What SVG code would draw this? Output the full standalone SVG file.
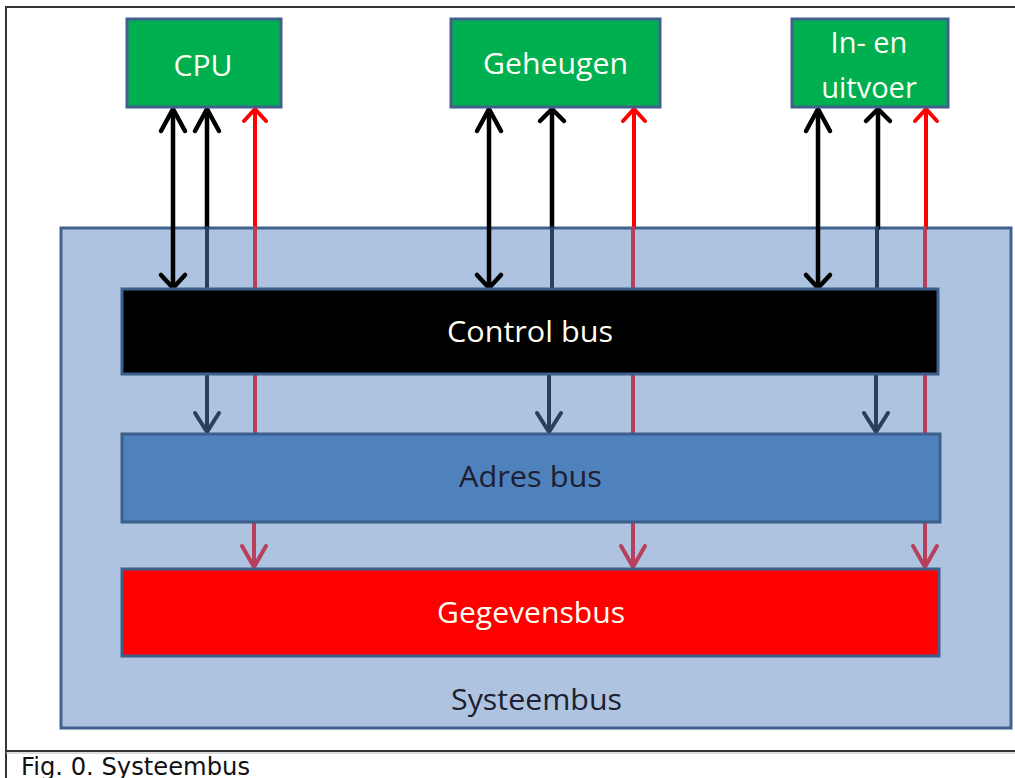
<svg xmlns="http://www.w3.org/2000/svg" width="1015" height="778" viewBox="0 0 1015 778">
<style>
.frame{stroke:#333;stroke-width:2;fill:none}
.unit{fill:#00b050;stroke:#41618c;stroke-width:3}
.bus{stroke:#3d5f8b;stroke-width:3}
.lbl{font-family:"Open Sans","Liberation Sans",sans-serif;font-size:29px;text-anchor:middle}
.w{fill:#fffff4}
.d{fill:#1c2030}
.ln{fill:none;stroke-linecap:round;stroke-linejoin:round}
.blk{stroke:#000;stroke-width:4.5}
.nav{stroke:#2b3e5c;stroke-width:4}
.red{stroke:#ff0000;stroke-width:4}
.dred{stroke:#b8405c;stroke-width:4}
</style>
<rect width="1015" height="778" fill="#fff"/>
<g id="frame">
<line class="frame" x1="6" y1="7" x2="1015" y2="7"/>
<line class="frame" x1="6" y1="6" x2="6" y2="778"/>
<line class="frame" x1="6" y1="751" x2="1015" y2="751"/>
<line x1="6" y1="753" x2="1015" y2="753" stroke="#bbb" stroke-width="1"/>
<text x="21" y="775" font-family="DejaVu Sans,Verdana,sans-serif" font-size="24.5" fill="#111" textLength="229" lengthAdjust="spacingAndGlyphs">Fig. 0. Systeembus</text>
</g>
<g id="systeembus">
<rect x="61" y="228" width="950" height="500" fill="#adc3df" stroke="#41628e" stroke-width="3"/>
<text class="lbl d" x="536.5" y="710" textLength="171" lengthAdjust="spacingAndGlyphs">Systeembus</text>
</g>
<g id="connectors">
<!-- CPU -->
<line class="ln blk" x1="173" y1="110" x2="173" y2="286"/>
<polyline class="ln blk" points="161,131 173,109 185,131"/>
<polyline class="ln blk" points="161,275 173,288 185,275"/>
<line class="ln blk" x1="207" y1="110" x2="207" y2="228"/>
<line class="ln nav" x1="207" y1="228" x2="207" y2="288"/>
<polyline class="ln blk" points="195,131 207,109 219,131"/>
<line class="ln nav" x1="207" y1="375" x2="207" y2="431"/>
<polyline class="ln nav" points="195,413 207,432 219,413"/>
<line class="ln red" x1="255" y1="110" x2="255" y2="228"/>
<polyline class="ln red" points="244,121 255,109 266,121"/>
<line class="ln dred" x1="255" y1="228" x2="255" y2="434"/>
<line class="ln dred" x1="254" y1="522" x2="254" y2="566"/>
<polyline class="ln dred" points="242,546 254,567 266,546"/>
<!-- Geheugen -->
<line class="ln blk" x1="489" y1="110" x2="489" y2="286"/>
<polyline class="ln blk" points="477,131 489,109 501,131"/>
<polyline class="ln blk" points="477,275 489,288 501,275"/>
<line class="ln blk" x1="552" y1="110" x2="552" y2="228"/>
<line class="ln nav" x1="552" y1="228" x2="552" y2="288"/>
<polyline class="ln blk" points="540,121 552,109 564,121"/>
<line class="ln nav" x1="549" y1="375" x2="549" y2="431"/>
<polyline class="ln nav" points="537,413 549,432 561,413"/>
<line class="ln red" x1="634" y1="110" x2="634" y2="228"/>
<polyline class="ln red" points="623,121 634,109 645,121"/>
<line class="ln dred" x1="633" y1="228" x2="633" y2="434"/>
<line class="ln dred" x1="633" y1="522" x2="633" y2="566"/>
<polyline class="ln dred" points="621,546 633,567 645,546"/>
<!-- In- en uitvoer -->
<line class="ln blk" x1="818" y1="110" x2="818" y2="286"/>
<polyline class="ln blk" points="806,131 818,109 830,131"/>
<polyline class="ln blk" points="806,275 818,288 830,275"/>
<line class="ln blk" x1="878" y1="110" x2="878" y2="228"/>
<line class="ln nav" x1="877" y1="228" x2="877" y2="288"/>
<polyline class="ln blk" points="866,121 878,109 890,121"/>
<line class="ln nav" x1="876" y1="375" x2="876" y2="431"/>
<polyline class="ln nav" points="864,413 876,432 888,413"/>
<line class="ln red" x1="926" y1="110" x2="926" y2="228"/>
<polyline class="ln red" points="915,121 926,109 937,121"/>
<line class="ln dred" x1="925" y1="228" x2="925" y2="434"/>
<line class="ln dred" x1="925" y1="522" x2="925" y2="566"/>
<polyline class="ln dred" points="913,546 925,567 937,546"/>
</g>
<g id="cpu">
<rect class="unit" x="127" y="19" width="154" height="88"/>
<text class="lbl w" x="203" y="76" textLength="59" lengthAdjust="spacingAndGlyphs">CPU</text>
</g>
<g id="geheugen">
<rect class="unit" x="451" y="19" width="209" height="88"/>
<text class="lbl w" x="555.5" y="74" textLength="145" lengthAdjust="spacingAndGlyphs">Geheugen</text>
</g>
<g id="io">
<rect class="unit" x="792" y="19" width="156" height="88"/>
<text class="lbl w" x="869" y="53">In- en</text>
<text class="lbl w" x="869" y="98">uitvoer</text>
</g>
<g id="controlbus">
<rect class="bus" x="122" y="289" width="816" height="85" fill="#000"/>
<text class="lbl w" x="530" y="342" textLength="166" lengthAdjust="spacingAndGlyphs">Control bus</text>
</g>
<g id="adresbus">
<rect class="bus" x="122" y="434" width="818" height="88" fill="#4f81bd"/>
<text class="lbl d" x="530.5" y="487" textLength="143" lengthAdjust="spacingAndGlyphs">Adres bus</text>
</g>
<g id="gegevensbus">
<rect class="bus" x="122" y="569" width="817" height="87" fill="#ff0000"/>
<text class="lbl w" x="531" y="623" textLength="188" lengthAdjust="spacingAndGlyphs">Gegevensbus</text>
</g>
</svg>
